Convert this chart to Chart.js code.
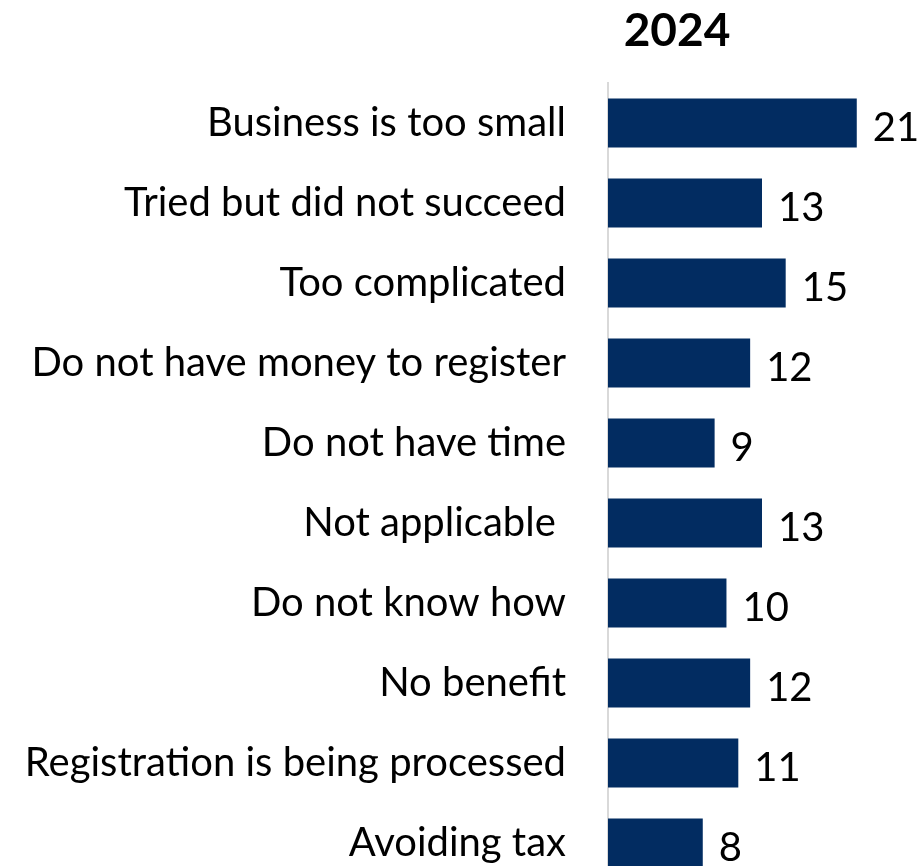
<!DOCTYPE html>
<html>
<head>
<meta charset="utf-8">
<script src="https://cdn.jsdelivr.net/npm/chart.js@4"></script>
<style>
  html, body { margin: 0; padding: 0; background: #fff; overflow: hidden; }
  canvas { display: block; }
</style>
</head>
<body>
<canvas id="barChart" width="922" height="883"></canvas>
<script>
const reasons = [
  'Business is too small',
  'Tried but did not succeed',
  'Too complicated',
  'Do not have money to register',
  'Do not have time',
  'Not applicable ',
  'Do not know how',
  'No benefit',
  'Registration is being processed',
  'Avoiding tax',
];
const shares2024 = [21, 13, 15, 12, 9, 13, 10, 12, 11, 8];
const yearLabel = '2024';

const FONT = 'Lato, "Open Sans", sans-serif';
const NAVY = '#022c61';

// year heading above the bars
const headingPlugin = {
  id: 'heading',
  afterDraw(chart) {
    const ctx = chart.ctx;
    ctx.save();
    ctx.fillStyle = '#000';
    ctx.font = `bold 46px ${FONT}`;
    ctx.textAlign = 'center';
    ctx.textBaseline = 'alphabetic';
    ctx.fillText(yearLabel, 677, 46);
    ctx.restore();
  },
};

// value printed just past the end of each bar
const valueLabels = {
  id: 'valueLabels',
  afterDatasetsDraw(chart) {
    const ctx = chart.ctx;
    const meta = chart.getDatasetMeta(0);
    ctx.save();
    ctx.fillStyle = '#000';
    ctx.font = `40px ${FONT}`;
    ctx.textAlign = 'left';
    ctx.textBaseline = 'middle';
    meta.data.forEach((bar, i) => {
      ctx.fillText(String(shares2024[i]), bar.x + 16, bar.y + 5);
    });
    ctx.restore();
  },
};

new Chart(document.getElementById('barChart'), {
  type: 'bar',
  data: {
    labels: reasons,
    datasets: [
      {
        label: yearLabel,
        data: shares2024,
        backgroundColor: NAVY,
        borderWidth: 0,
        categoryPercentage: 1,
        barPercentage: 0.61,
      },
    ],
  },
  options: {
    indexAxis: 'y',
    responsive: false,
    animation: false,
    devicePixelRatio: 1,
    layout: { padding: { top: 83, right: 6, bottom: 0, left: 0 } },
    plugins: {
      legend: { display: false },
      tooltip: { enabled: false },
      title: { display: false },
    },
    scales: {
      x: {
        min: 0,
        max: 26,
        display: false,
      },
      y: {
        // fixed label column; no extra room above/below the first and last rows
        afterFit(scale) {
          scale.width = 608;
          scale.paddingTop = 0;
          scale.paddingBottom = 0;
        },
        grid: { display: false, drawTicks: false },
        border: { display: true, color: '#d9d9d9', width: 2 },
        ticks: {
          color: '#000',
          padding: 42,
          font: { family: FONT, size: 40 },
        },
      },
    },
  },
  plugins: [headingPlugin, valueLabels],
});
</script>
</body>
</html>
